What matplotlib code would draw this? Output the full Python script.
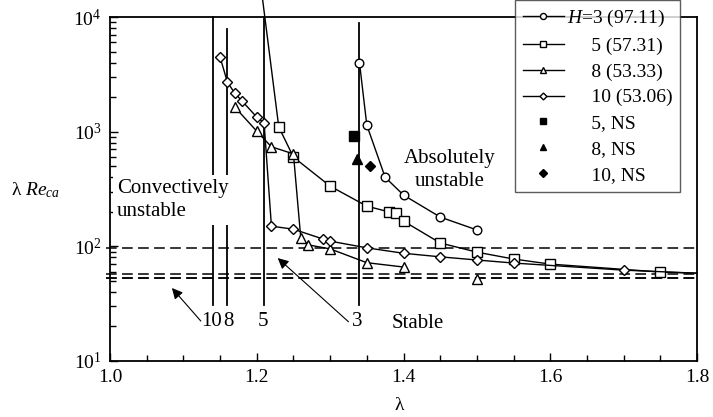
import matplotlib
matplotlib.use("Agg")
import matplotlib.pyplot as plt
import numpy as np
from matplotlib.ticker import MultipleLocator, LogLocator, NullFormatter

plt.rcParams['font.family'] = ['Liberation Serif', 'DejaVu Serif']
plt.rcParams['mathtext.fontset'] = 'custom'
plt.rcParams['mathtext.rm'] = 'Liberation Serif'
plt.rcParams['mathtext.it'] = 'Liberation Serif:italic'
plt.rcParams['mathtext.bf'] = 'Liberation Serif:bold'

# ---- data ----
H3_x = [1.34, 1.35, 1.375, 1.40, 1.45, 1.50]
H3_y = [4000, 1140, 400, 280, 180, 139]

H5_x = [1.2075, 1.23, 1.25, 1.30, 1.35, 1.38, 1.39, 1.40, 1.45, 1.50, 1.55, 1.60, 1.75, 1.80]
H5_y = [15000, 1100, 600, 335, 224, 200, 196, 166, 107, 89, 77.5, 70, 59.7, 58.3]

H8_x = [1.17, 1.20, 1.22, 1.25, 1.26, 1.27, 1.30, 1.35, 1.40]
H8_y = [1640, 1010, 738, 640, 118, 103, 95, 72, 66]
H8_extra_x = [1.50]
H8_extra_y = [52]

H10_x = [1.15, 1.16, 1.17, 1.18, 1.20, 1.21, 1.22, 1.25, 1.29, 1.30, 1.35, 1.40, 1.45, 1.50, 1.55, 1.70, 1.80]
H10_y = [4470, 2700, 2170, 1850, 1340, 1190, 150, 141, 116, 111, 97, 87, 81, 76, 71.5, 62, 58.3]

NS_x = [1.333, 1.337, 1.355]
NS_y = [916, 577, 501]
NS_labels = ['5, NS', '8, NS', '10, NS']

crit_H = ['3', '5', '8', '10']
crit_vals = [97.11, 57.31, 53.33, 53.06]

bound_x = [1.14, 1.16, 1.21, 1.34]
bound_top = [10000, 7800, 10000, 8850]
bound_bottom = 31
bound_labels = ['10', '8', '5', '3']

# ---- figure ----
fig = plt.figure(figsize=(7.13, 4.17), dpi=100)
ax = fig.add_axes([110/713, 1-361/417, 587/713, 344/417])
ax.set_xscale('linear')
ax.set_yscale('log')
ax.set_xlim(1.0, 1.8)
ax.set_ylim(10, 10000)

# boundary lines
for bx, bt in zip(bound_x, bound_top):
    ax.plot([bx, bx], [bound_bottom, bt], color='k', lw=1.3, zorder=2, clip_on=False)

# dashed critical lines
for cv in crit_vals:
    ax.plot([0.995, 1.8], [cv, cv], color='k', lw=1.1, ls=(0, (7, 3.5)), zorder=2, clip_on=False)

fs = 14
mk = dict(mfc='white', mec='k', mew=1.0, color='k', lw=1.0)
l3, = ax.plot(H3_x, H3_y, marker='o', ms=6.2, label=r'$H$=3 (97.11)', zorder=4, **mk)
l5, = ax.plot(H5_x, H5_y, marker='s', ms=6.5, markevery=list(range(1, 13)),
              label='     5 (57.31)', zorder=4, clip_on=False, **mk)
l8, = ax.plot(H8_x, H8_y, marker='^', ms=7, label='     8 (53.33)', zorder=4, **mk)
ax.plot(H8_extra_x, H8_extra_y, marker='^', ms=7, ls='none', mfc='white', mec='k', mew=1.0, zorder=4)
l10, = ax.plot(H10_x, H10_y, marker='D', ms=5, markevery=list(range(0, 16)),
               label='     10 (53.06)', zorder=4, **mk)
ns_markers = ['s', '^', 'D']
ns_ms = [7, 7, 5.5]
ns_handles = []
for x, y, m, s, lab in zip(NS_x, NS_y, ns_markers, ns_ms, NS_labels):
    h, = ax.plot([x], [y], marker=m, ms=s, color='k', ls='none', label='     ' + lab, zorder=5)
    ns_handles.append(h)

# region texts
ax.text(1.0095, 253, 'Convectively\nunstable', fontsize=15, ha='left', va='center',
        linespacing=1.25, zorder=3,
        bbox=dict(facecolor='white', edgecolor='none', pad=3))
ax.text(1.4626, 462, 'Absolutely\nunstable', fontsize=15, ha='center', va='center',
        linespacing=1.25, zorder=3)
ax.text(1.3837, 21.4, 'Stable', fontsize=15, ha='left', va='center', zorder=3)

# boundary labels
lab_x = [1.139, 1.162, 1.208, 1.337]
for lx, lb in zip(lab_x, bound_labels):
    ax.text(lx, 21.9, lb, fontsize=15, ha='center', va='center', zorder=3)

# arrows
ax.annotate('', xy=(1.0844, 43.3), xytext=(1.1238, 22.3),
            arrowprops=dict(arrowstyle='-|>', mutation_scale=16, lw=0.8, color='k',
                            shrinkA=0, shrinkB=0))
ax.annotate('', xy=(1.2286, 79), xytext=(1.325, 22.0),
            arrowprops=dict(arrowstyle='-|>', mutation_scale=16, lw=0.8, color='k',
                            shrinkA=0, shrinkB=0))

# axes styling
for sp in ax.spines.values():
    sp.set_linewidth(1.3)
ax.xaxis.set_major_locator(MultipleLocator(0.2))
ax.xaxis.set_minor_locator(MultipleLocator(0.05))
ax.xaxis.set_major_formatter(matplotlib.ticker.FormatStrFormatter('%.1f'))
ax.yaxis.set_major_locator(LogLocator(base=10, numticks=10))
ax.yaxis.set_minor_locator(LogLocator(base=10, subs=np.arange(2, 10), numticks=20))
ax.yaxis.set_minor_formatter(NullFormatter())
ax.tick_params(which='both', direction='in', top=False, right=False, labelsize=fs, width=1.0)
ax.tick_params(which='major', length=6, pad=6)
ax.tick_params(which='minor', length=4)

fig.text(36/713, 1-190/417, r'λ $Re_{ca}$', fontsize=fs, ha='center', va='center')
fig.text(399/713, 1-406/417, 'λ', fontsize=fs, ha='center', va='center')

leg = ax.legend(handles=[l3, l5, l8, l10] + ns_handles, loc='upper right',
                bbox_to_anchor=(680/713, 1.0), bbox_transform=fig.transFigure,
                fontsize=fs, frameon=True, fancybox=False, markerscale=0.7,
                handlelength=2.1, handletextpad=0.15, labelspacing=0.42,
                borderpad=0.4, borderaxespad=0)
leg.get_frame().set_edgecolor('#333333')
leg.get_frame().set_linewidth(1.0)
leg.set_zorder(10)

fig.savefig('out.png', dpi=100)
